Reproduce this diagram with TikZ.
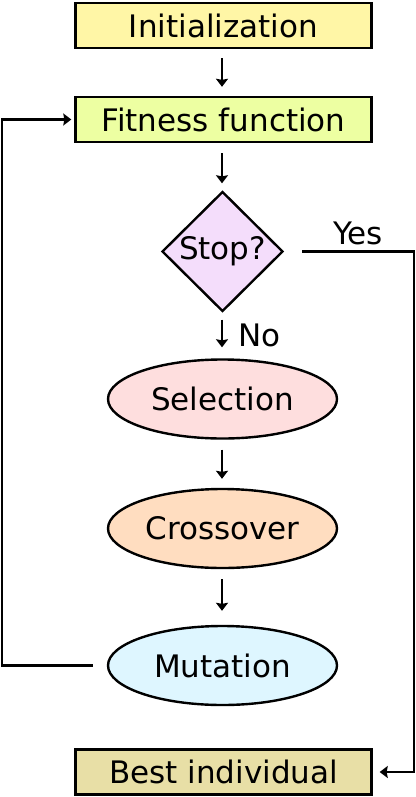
\documentclass[tikz,border=0pt]{standalone}
\usepackage{fontspec}
\setmainfont{DejaVu Sans}
\usetikzlibrary{shapes.geometric,arrows.meta}
\definecolor{initc}{HTML}{FFF6A6}
\definecolor{fitc}{HTML}{EDFFA2}
\definecolor{stopc}{HTML}{F4DDFB}
\definecolor{selc}{HTML}{FEDEDE}
\definecolor{croc}{HTML}{FFDDC0}
\definecolor{mutc}{HTML}{DEF6FF}
\definecolor{bestc}{HTML}{E8DFA6}
\tikzset{flowtip/.tip={Stealth[length=8pt,width=12pt,inset=1pt]}}
\begin{document}
\begin{tikzpicture}[x=1pt,y=-1pt,
  txt/.style={font=\fontsize{31}{37}\selectfont},
  box/.style={txt, draw, line width=2.4pt, rectangle, minimum width=296pt, minimum height=45pt, inner sep=0pt},
  oval/.style={txt, draw, line width=2.4pt, ellipse, minimum width=229pt, minimum height=79pt, inner sep=0pt},
  dec/.style={txt, draw, line width=2.4pt, diamond, minimum width=121pt, minimum height=120pt, inner sep=0pt},
  arr/.style={line width=2.2pt, -flowtip},
  flow/.style={arr, shorten <=9pt, shorten >=9pt}
]
\useasboundingbox (0,0) rectangle (415,797);
\node[box, fill=initc] (init) at (223.5,25.5) {Initialization};
\node[box, fill=fitc] (fit) at (223.5,119.5) {Fitness function};
\node[dec, fill=stopc] (stop) at (222.5,251.5) {Stop?};
\node[oval, fill=selc] (sel) at (222.5,399) {Selection};
\node[oval, fill=croc] (cro) at (222.5,528.5) {Crossover};
\node[oval, fill=mutc] (mut) at (222.5,665.5) {Mutation};
\node[box, fill=bestc] (best) at (223.5,772) {Best individual};

\draw[flow] (init.south -| 222,0) -- (fit.north -| 222,0);
\draw[flow, shorten <=10pt, shorten >=7pt] (fit.south -| 222,0) -- (stop.north -| 222,0);
\draw[flow, shorten <=7pt, shorten >=11pt] (stop.south -| 222,0) -- node[txt, right=12pt] (no) {No} (sel.north -| 222,0);
\draw[flow, shorten <=10pt, shorten >=9pt] (sel.south -| 222,0) -- (cro.north -| 222,0);
\draw[flow, shorten <=10pt, shorten >=14pt] (cro.south -| 222,0) -- (mut.north -| 222,0);

\coordinate (lb) at (2,665.5);
\draw[arr, shorten >=3pt] ([xshift=-14pt]mut.west) -- (lb) |- (fit.west);
\coordinate (rt) at (414,251.5);
\draw[arr, shorten >=7pt] ([xshift=18pt]stop.east) -- node[txt, above=2pt] (yes) {Yes} (rt) |- (best.east);
\end{tikzpicture}
\end{document}
